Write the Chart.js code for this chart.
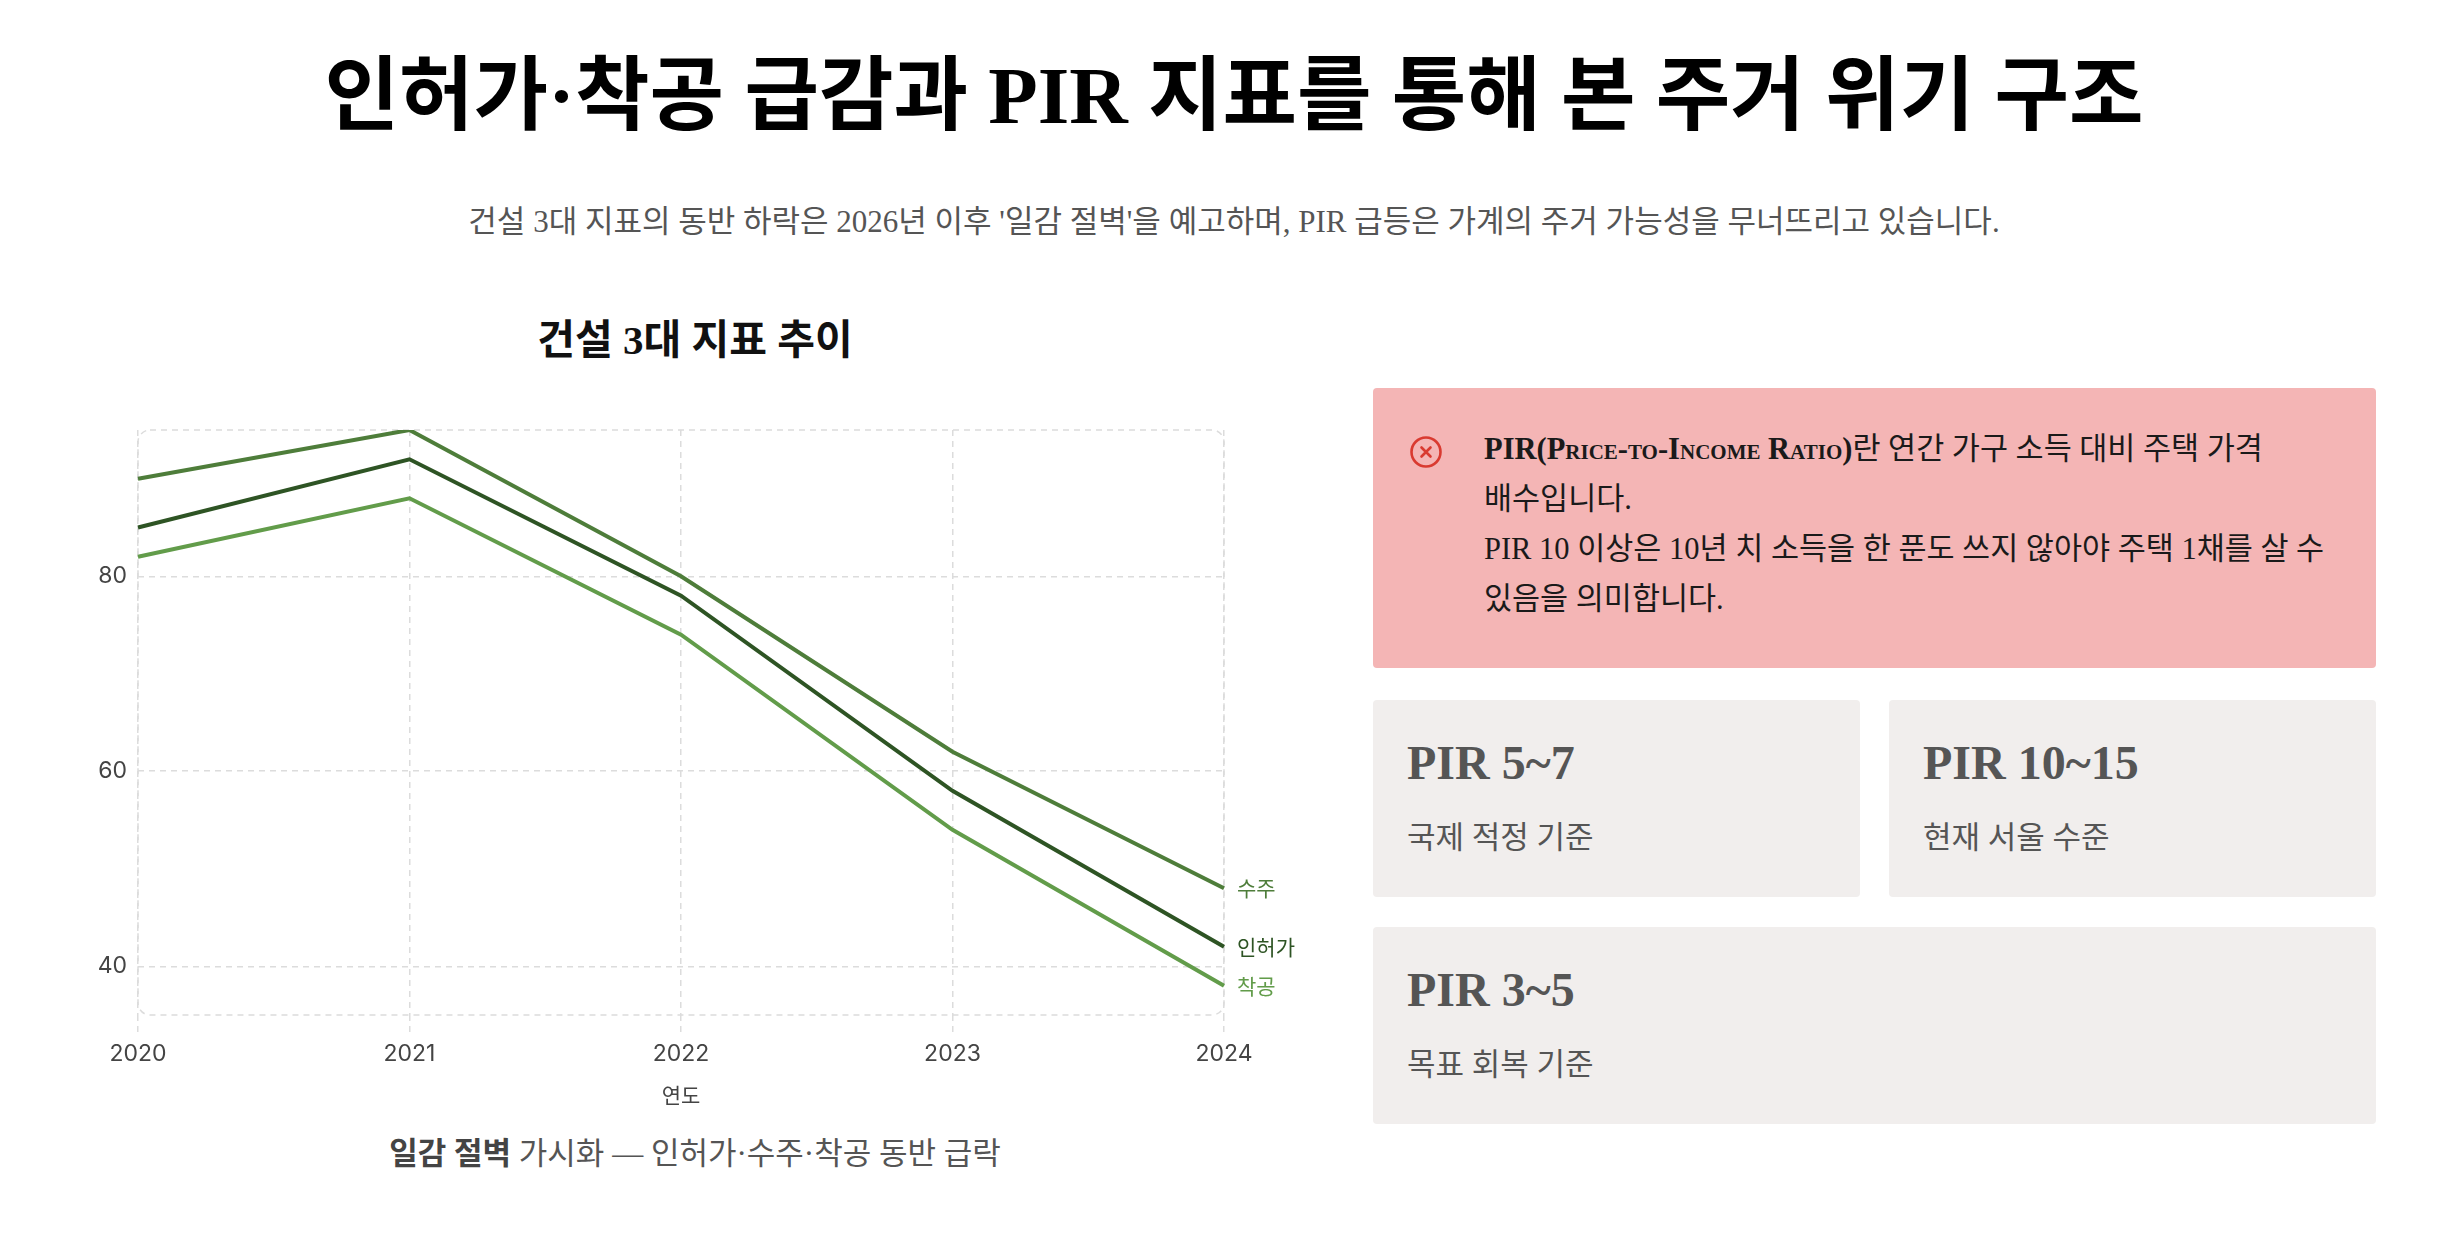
<!DOCTYPE html>
<html lang="ko">
<head>
<meta charset="utf-8">
<title>인허가·착공 급감과 PIR 지표를 통해 본 주거 위기 구조</title>
<script src="https://cdn.jsdelivr.net/npm/chart.js@4.4.1/dist/chart.umd.min.js"></script>
<style>
  body { margin: 0; background: #fff; font-family: 'Liberation Serif', 'Noto Sans CJK KR', serif; color: #222; word-break: keep-all; }
  .page { position: relative; width: 2446px; height: 1234px; }
  h1 { position: absolute; left: 22px; right: 0; top: 48px; margin: 0; text-align: center;
       font-size: 81px; line-height: 96px; font-weight: 700; color: #000; }
  .sub { position: absolute; left: 22px; right: 0; top: 202px; margin: 0; text-align: center;
         font-size: 31px; line-height: 40px; color: #555; }

  .left { position: absolute; left: 40px; top: 300px; width: 1310px; }
  .left h3 { margin: 0; text-align: center; font-size: 41px; line-height: 80px; font-weight: 700; color: #111; }
  .chart-box { position: relative; width: 1300px; height: 735px; }
  .caption { margin: 19px 0 0; text-align: center; font-size: 31px; line-height: 40px; color: #555; }
  .caption b { color: #444; }

  .right { position: absolute; left: 1373px; top: 388px; width: 1003px; }
  .note { position: relative; box-sizing: border-box; height: 280px; background: #f4b5b5; border-radius: 4px;
          padding: 36px 32px 0 111px; font-size: 30.5px; line-height: 50px; color: #1a1a1a; }
  .note .icon { position: absolute; left: 36px; top: 47px; }
  .note b { font-variant: small-caps; }
  .cards { display: grid; grid-template-columns: 487px 487px; gap: 30px 29px; margin-top: 32px; }
  .card { box-sizing: border-box; height: 197px; background: #f1eeed; border-radius: 4px; padding: 33px 34px 0; }
  .card.wide { grid-column: 1 / span 2; }
  .card h4 { margin: 0; font-size: 48px; line-height: 60px; font-weight: 700; color: #555; }
  .card p { margin: 23px 0 0; font-size: 31px; line-height: 44px; color: #555; }
</style>
</head>
<body>
<div class="page">
  <h1>인허가·착공 급감과 PIR 지표를 통해 본 주거 위기 구조</h1>
  <p class="sub">건설 3대 지표의 동반 하락은 2026년 이후 '일감 절벽'을 예고하며, PIR 급등은 가계의 주거 가능성을 무너뜨리고 있습니다.</p>

  <div class="left">
    <h3>건설 3대 지표 추이</h3>
    <div class="chart-box"><canvas id="trendChart"></canvas></div>
    <p class="caption"><b>일감 절벽</b> 가시화 — 인허가·수주·착공 동반 급락</p>
  </div>

  <div class="right">
    <div class="note">
      <svg class="icon" width="34" height="34" viewBox="0 0 34 34">
        <circle cx="17" cy="17" r="14.5" fill="none" stroke="#d93a30" stroke-width="2.6"/>
        <path d="M12.5 12.5 L21.5 21.5 M21.5 12.5 L12.5 21.5" stroke="#d93a30" stroke-width="2.6" stroke-linecap="round"/>
      </svg>
      <b>PIR(Price-to-Income Ratio)</b>란 연간 가구 소득 대비 주택 가격 배수입니다.<br>
      PIR 10 이상은 10년 치 소득을 한 푼도 쓰지 않아야 주택 1채를 살 수 있음을 의미합니다.
    </div>
    <div class="cards">
      <div class="card"><h4>PIR 5~7</h4><p>국제 적정 기준</p></div>
      <div class="card"><h4>PIR 10~15</h4><p>현재 서울 수준</p></div>
      <div class="card wide"><h4>PIR 3~5</h4><p>목표 회복 기준</p></div>
    </div>
  </div>
</div>

<script>
// 연도별 건설 3대 지표 (지수)
const years = ['2020', '2021', '2022', '2023', '2024'];
const suju = [90, 95, 80, 62, 48];       // 수주
const inheoga = [85, 92, 78, 58, 42];    // 인허가
const chakgong = [82, 88, 74, 54, 38];   // 착공
const yTicks = [40, 60, 80];

Chart.defaults.font.family = "Inter, 'Noto Sans CJK KR', sans-serif";
Chart.defaults.color = '#444';

// dashed rounded frame around the plot + series names at line ends
const frameAndLabels = {
    id: 'frameAndLabels',
    beforeDatasetsDraw: function (chart) {
        const ctx = chart.ctx, a = chart.chartArea;
        ctx.save();
        ctx.strokeStyle = '#dcdcdc';
        ctx.lineWidth = 1.5;
        ctx.setLineDash([6, 5]);
        ctx.beginPath();
        ctx.roundRect(a.left, a.top, a.right - a.left, a.bottom - a.top, 12);
        ctx.stroke();
        ctx.restore();
    },
    afterDatasetsDraw: function (chart) {
        const ctx = chart.ctx;
        ctx.save();
        ctx.font = "21px 'Noto Sans CJK KR', sans-serif";
        ctx.textBaseline = 'middle';
        chart.data.datasets.forEach(function (ds, i) {
            const pts = chart.getDatasetMeta(i).data;
            const last = pts[pts.length - 1];
            ctx.fillStyle = ds.borderColor;
            ctx.fillText(ds.label, last.x + 13, last.y);
        });
        ctx.restore();
    }
};

const ctx = document.getElementById('trendChart').getContext('2d');
new Chart(ctx, {
    type: 'line',
    data: {
        labels: years,
        datasets: [
            { label: '수주', data: suju, borderColor: '#4e7d3a', borderWidth: 4, pointRadius: 0, tension: 0 },
            { label: '인허가', data: inheoga, borderColor: '#2e5424', borderWidth: 4, pointRadius: 0, tension: 0 },
            { label: '착공', data: chakgong, borderColor: '#629c4a', borderWidth: 4, pointRadius: 0, tension: 0 }
        ]
    },
    options: {
        responsive: true,
        maintainAspectRatio: false,
        animation: false,
        layout: { padding: { top: 50, right: 116, left: 0, bottom: 0 } },
        plugins: {
            legend: { display: false },
            tooltip: { enabled: false }
        },
        scales: {
            x: {
                afterFit: function (s) { s.height = 100; },
                grid: { color: '#dcdcdc', lineWidth: 1.5, tickLength: 18, tickBorderDash: [6, 5] },
                border: { display: false, dash: [6, 5] },
                ticks: { padding: 7, font: { size: 23 }, color: '#444' },
                title: { display: true, text: '연도', font: { size: 21 }, color: '#444', padding: { top: 0, bottom: 6 } }
            },
            y: {
                min: 35,
                max: 95,
                afterBuildTicks: function (s) { s.ticks = yTicks.map(function (v) { return { value: v }; }); },
                afterFit: function (s) { s.width = 98; },
                grid: { color: '#dcdcdc', lineWidth: 1.5, drawTicks: false },
                border: { display: false, dash: [6, 5] },
                ticks: { padding: 11, font: { size: 23 }, color: '#444' }
            }
        }
    },
    plugins: [frameAndLabels]
});
</script>
</body>
</html>
